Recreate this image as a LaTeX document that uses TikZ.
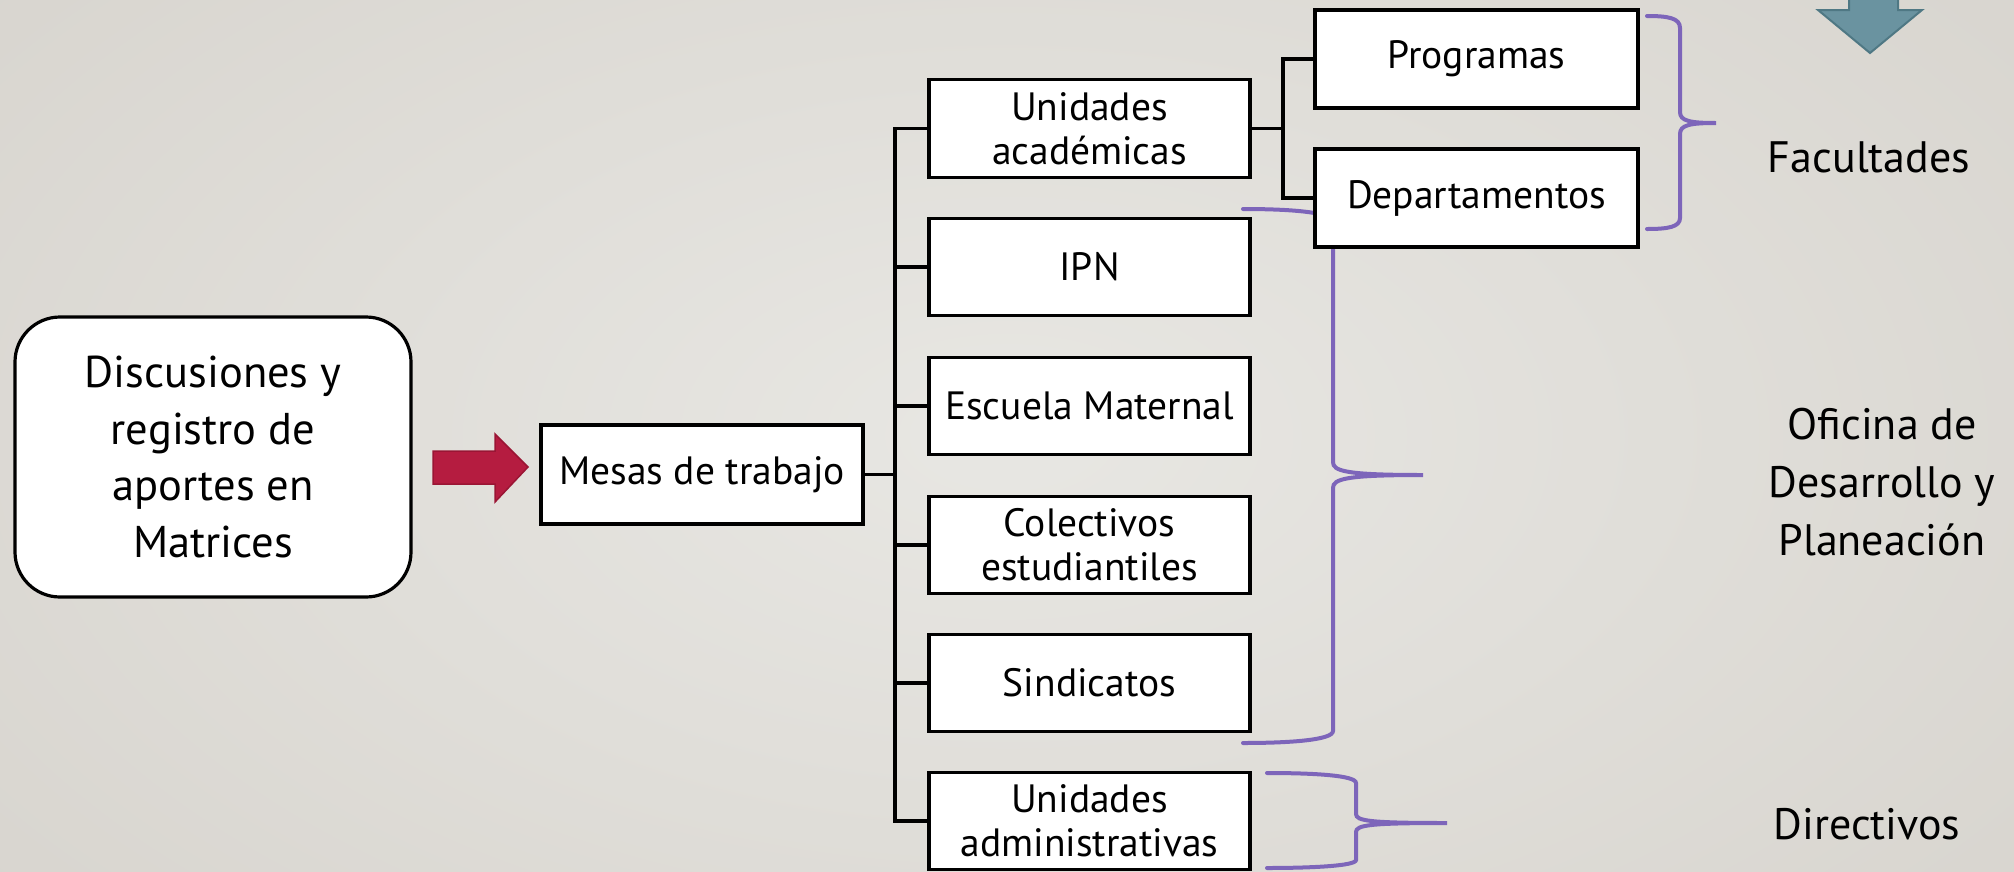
\documentclass[tikz,border=0pt]{standalone}
\usepackage{fontspec}
\setmainfont{PT Sans}
\definecolor{bgin}{HTML}{E8E7E3}
\definecolor{bgout}{HTML}{D8D5CF}
\definecolor{bracecol}{HTML}{7D65BA}
\definecolor{redfill}{HTML}{B51C40}
\definecolor{redline}{HTML}{9A1534}
\definecolor{bluefill}{HTML}{6A93A0}
\definecolor{blueline}{HTML}{4F7884}
\begin{document}
\begin{tikzpicture}[x=1pt,y=-1pt,
  box/.style={draw=black, line width=3.2pt, fill=white, minimum width=321pt, minimum height=97.6pt,
    align=center, inner sep=0pt, font=\fontsize{39.5}{44}\selectfont},
  discbox/.style={draw=black, line width=3.2pt, fill=white, rounded corners=45pt,
    minimum width=396pt, minimum height=280pt, align=center, inner sep=0pt,
    font=\fontsize{44.5}{56.5}\selectfont},
  lbl/.style={align=center, inner sep=0pt, font=\fontsize{44}{58}\selectfont},
  conn/.style={line width=3.2pt, line cap=rect},
  brace/.style={draw=bracecol, line width=4pt, line cap=round}]
\useasboundingbox (0,0) rectangle (2014,871);
\shade[inner color=bgin, outer color=bgout] (-300,-300) rectangle (2314,1171);

% braces (behind boxes)
\draw[brace] (1647,16) .. controls (1668,16) and (1680,18) .. (1680,28)
  -- (1680,112) .. controls (1680,121) and (1690,123) .. (1716,123)
  .. controls (1690,123) and (1680,125) .. (1680,134)
  -- (1680,218) .. controls (1680,227) and (1668,229) .. (1647,229);
\draw[brace] (1243,209) .. controls (1290,209) and (1333,212) .. (1333,222)
  -- (1333,462) .. controls (1333,471) and (1345,475) .. (1423,475)
  .. controls (1345,475) and (1333,479) .. (1333,488)
  -- (1333,731) .. controls (1333,740) and (1290,743) .. (1243,743);
\draw[brace] (1267,773) .. controls (1310,773) and (1356,775) .. (1356,783)
  -- (1356,814) .. controls (1356,821) and (1370,823) .. (1447,823)
  .. controls (1370,823) and (1356,825) .. (1356,832)
  -- (1356,860) .. controls (1356,866) and (1310,868) .. (1267,868);

% nodes
\node[discbox] (disc) at (213,457) {Discusiones y\\registro de\\aportes en\\Matrices};
\node[box, minimum width=322pt, minimum height=99pt] (mesas) at (702,474.5) {Mesas de trabajo};
\node[box] (ua) at (1089.5,128.5) {Unidades\\académicas};
\node[box] (ipn) at (1089.5,267) {IPN};
\node[box] (em) at (1089.5,406) {Escuela Maternal};
\node[box] (ce) at (1089.5,545) {Colectivos\\estudiantiles};
\node[box] (sin) at (1089.5,683) {Sindicatos};
\node[box] (uad) at (1089.5,821) {Unidades\\administrativas};
\node[box, minimum width=323pt, minimum height=98pt] (prog) at (1476.5,59) {Programas};
\node[box, minimum width=323pt, minimum height=98pt] (dep) at (1476.5,198) {Departamentos};

% labels
\node[lbl] (fac) at (1869,157) {Facultades};
\node[lbl] (ofi) at (1882,482) {Oficina de\\Desarrollo y\\Planeación};
\node[lbl] (dir) at (1867,824) {Directivos};

% connectors
\coordinate (busTop) at (895,128.5);
\coordinate (busBot) at (895,821);
\draw[conn] (busTop) -- (busBot);
\draw[conn] (mesas.east) -- (mesas.east -| busTop);
\foreach \n in {ua,ipn,em,ce,sin,uad} {
  \draw[conn] (\n.west) -- (\n.west -| busTop);
}
\coordinate (bus2) at (1283,128.5);
\draw[conn] (ua.east) -- (bus2);
\draw[conn] (prog.west) -- (prog.west -| bus2) -- (dep.west -| bus2) -- (dep.west);

% red arrow between disc and mesas
\filldraw[fill=redfill, draw=redline, line width=1.5pt, line join=miter]
  (433,451) -- (495,451) -- (495,434) -- (528,467) -- (495,502) -- (495,484) -- (433,484) -- cycle;

% blue arrow (top right, cut off)
\filldraw[fill=bluefill, draw=blueline, line width=2pt, line join=miter]
  (1849,-5) -- (1849,10) -- (1818,10) -- (1870,53) -- (1922,10) -- (1898,10) -- (1898,-5) -- cycle;
\end{tikzpicture}
\end{document}
